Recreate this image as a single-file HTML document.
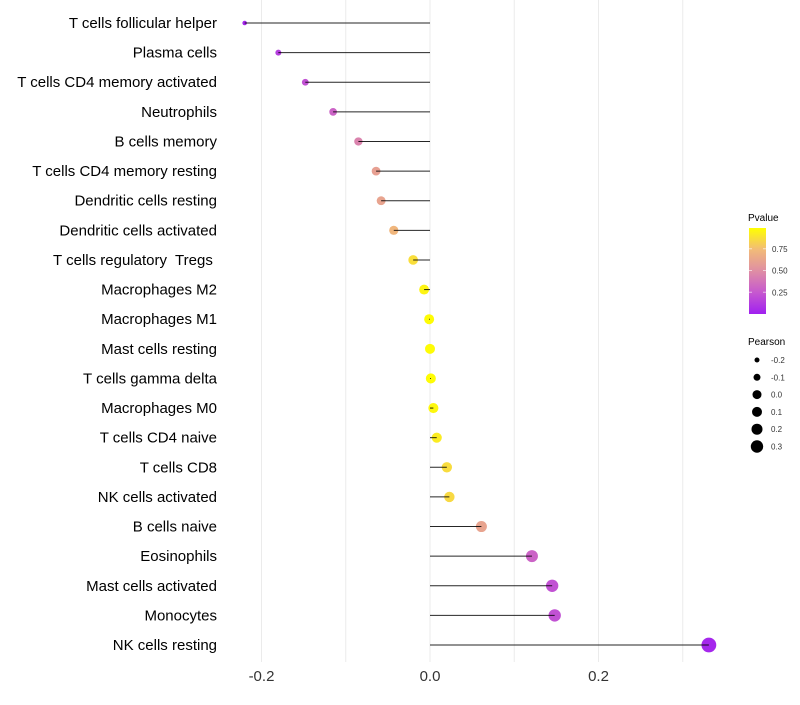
<!DOCTYPE html>
<html><head><meta charset="utf-8"><style>
body{margin:0;background:#fff;font-family:"Liberation Sans",sans-serif}
#ylabels text{white-space:pre}
</style></head><body>
<svg id="chart" width="800" height="700" xmlns="http://www.w3.org/2000/svg">
<defs><linearGradient id="pg" x1="0" y1="1" x2="0" y2="0">
<stop offset="0" stop-color="#a020f0"/><stop offset="0.25" stop-color="#c658cf"/><stop offset="0.5" stop-color="#df8ea4"/><stop offset="0.75" stop-color="#f2bb78"/><stop offset="1" stop-color="#ffff00"/></linearGradient></defs>
<g id="grid"></g>
<g id="dots"></g>
<g id="stems"></g>
<g id="ylabels" font-size="15" text-anchor="end" fill="#000"></g>
<g id="xlabels" font-size="15" text-anchor="middle" fill="#333"></g>
<g font-size="10">
<text x="748" y="221">Pvalue</text>
<rect x="749" y="228" width="17" height="86" fill="url(#pg)"/>
<g id="cbticks" font-size="8" fill="#333"></g>
</g>
<g>
<text x="748" y="345" font-size="10">Pearson</text>
<g id="sizeleg" font-size="8" fill="#333"></g>
</g>
</svg>
<script>
const categories=["T cells follicular helper","Plasma cells","T cells CD4 memory activated","Neutrophils","B cells memory","T cells CD4 memory resting","Dendritic cells resting","Dendritic cells activated","T cells regulatory  Tregs ","Macrophages M2","Macrophages M1","Mast cells resting","T cells gamma delta","Macrophages M0","T cells CD4 naive","T cells CD8","NK cells activated","B cells naive","Eosinophils","Mast cells activated","Monocytes","NK cells resting"];
const pearson=[-0.22,-0.18,-0.148,-0.115,-0.085,-0.064,-0.058,-0.043,-0.020,-0.007,-0.001,0.000,0.001,0.004,0.008,0.020,0.023,0.061,0.121,0.145,0.148,0.331];
const pvalue=[0.03,0.14,0.22,0.3,0.45,0.6,0.62,0.72,0.88,0.96,0.99,0.99,0.99,0.97,0.93,0.87,0.86,0.62,0.3,0.22,0.22,0.03];
const xTicks=[-0.2,0.0,0.2];
const gridVals=[-0.2,-0.1,0,0.1,0.2,0.3];
const cbTicks=[0.25,0.5,0.75];
const cbLabels=["0.25","0.50","0.75"];
const sizeVals=[-0.2,-0.1,0.0,0.1,0.2,0.3];
const sizeLabels=["-0.2","-0.1","0.0","0.1","0.2","0.3"];
const NS="http://www.w3.org/2000/svg";
const X=v=>430+v*842.5;
const Y=i=>23+i*29.62;
const R=v=>Math.sqrt(Math.max(3,25+90*v));
const stops=[[0,[160,32,240]],[0.25,[198,88,207]],[0.5,[223,142,164]],[0.75,[242,187,120]],[1,[255,255,0]]];
function col(p){for(let k=0;k<stops.length-1;k++){const [a,ca]=stops[k],[b,cb]=stops[k+1];
 if(p<=b){const t=(p-a)/(b-a);return `rgb(${ca.map((x,i)=>Math.round(x+(cb[i]-x)*t))})`;}}return 'rgb(255,255,0)';}
function mk(t,a,parent){const e=document.createElementNS(NS,t);for(const k in a)e.setAttribute(k,a[k]);parent.appendChild(e);return e;}
const grid=document.getElementById('grid'),stems=document.getElementById('stems'),dots=document.getElementById('dots'),yl=document.getElementById('ylabels'),xl=document.getElementById('xlabels');
gridVals.forEach(v=>{const l=mk('line',{x1:X(v),x2:X(v),y1:0,y2:662,stroke:'#ebebeb','stroke-width':1},grid);

});
categories.forEach((c,i)=>{
 const y=Y(i);
 const s=mk('line',{x1:X(0),x2:X(pearson[i]),y1:y,y2:y,stroke:'#000','stroke-width':1,'stroke-opacity':0.85},stems);
 
 
 const d=mk('circle',{cx:X(pearson[i]),cy:y,r:R(pearson[i]),fill:col(pvalue[i])},dots);
 
 
 const t=mk('text',{x:217,y:y+5},yl);t.textContent=c;
 
 
});
xTicks.forEach(v=>{const t=mk('text',{x:X(v),y:681},xl);t.textContent=v.toFixed(1);
 
 });
const cb=document.getElementById('cbticks');
cbTicks.forEach((v,i)=>{const y=314-v*87;
 mk('line',{x1:749,x2:752,y1:y,y2:y,stroke:'#fff','stroke-opacity':0.6},cb);
 mk('line',{x1:763,x2:766,y1:y,y2:y,stroke:'#fff','stroke-opacity':0.6},cb);
 const t=mk('text',{x:772,y:y+3},cb);t.textContent=cbLabels[i];
 
 });
const sl=document.getElementById('sizeleg');
const LR=[2.5,3.5,4.5,5,5.5,6.2];
sizeVals.forEach((v,i)=>{const y=360+i*17.3;
 const c=mk('circle',{cx:757,cy:y,r:LR[i],fill:'#000'},sl);
 
 
 const t=mk('text',{x:771,y:y+3},sl);t.textContent=sizeLabels[i];
 
 });
</script>
</body></html>
